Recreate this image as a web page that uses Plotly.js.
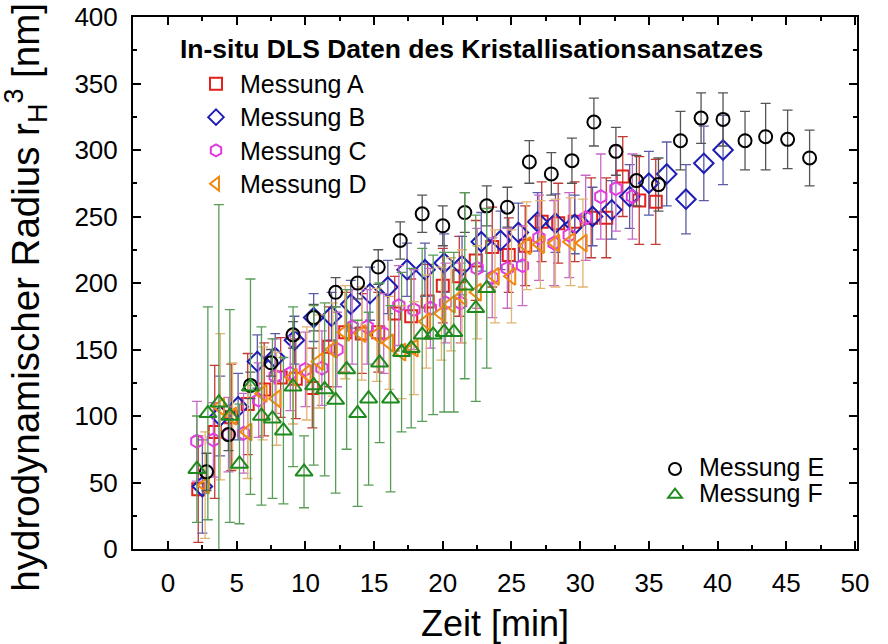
<!DOCTYPE html>
<html>
<head>
<meta charset="utf-8">
<script src="https://cdn.plot.ly/plotly-3.0.1.min.js"></script>
<style>
  html, body { margin: 0; padding: 0; background: #fff; }
  #chart { width: 888px; height: 644px; }
</style>
</head>
<body>
<div id="chart"></div>
<script>
// In-situ DLS: hydrodynamic radius over time, six runs (A–F)

// Messung A
const tA = [2.2, 3.4, 4.6, 5.8, 7.0, 8.2, 9.3, 10.5, 11.7, 12.9, 14.1, 15.3, 16.5, 17.7, 18.9, 20.0, 21.2, 22.4, 23.6, 24.8, 26.0, 27.2, 28.4, 29.6, 30.8, 31.9, 33.1, 34.3, 35.5];
const rA = [45, 88, 99, 109, 120, 129, 128, 121, 152, 163, 162, 163, 177, 175, 186, 198, 205, 217, 227, 221, 228, 246, 245, 246, 249, 249, 280, 262, 261];
const eA = [40, 50, 40, 38, 35, 30, 30, 30, 30, 30, 30, 30, 28, 28, 28, 28, 30, 30, 30, 28, 30, 30, 30, 30, 30, 30, 30, 33, 32];

// Messung B
const tB = [2.5, 3.8, 5.1, 6.5, 7.8, 9.2, 10.6, 11.9, 13.3, 14.7, 16.0, 17.4, 18.7, 20.1, 21.4, 22.8, 24.2, 25.5, 26.9, 28.2, 29.6, 30.9, 32.3, 33.6, 35.0, 36.3, 37.7, 39.0, 40.4];
const rB = [47, 100, 107, 141, 144, 157, 174, 175, 184, 192, 197, 210, 210, 215, 213, 231, 232, 238, 246, 245, 244, 250, 255, 265, 275, 282, 263, 290, 300];
const eB = [35, 30, 25, 20, 18, 18, 18, 18, 18, 20, 20, 20, 20, 22, 22, 22, 22, 22, 22, 22, 22, 22, 22, 24, 24, 24, 26, 28, 26];

// Messung C
const tC = [2.1, 3.3, 4.4, 5.5, 6.6, 7.8, 8.9, 10.0, 11.2, 12.3, 13.4, 14.5, 15.7, 16.8, 17.9, 19.1, 20.2, 21.3, 22.5, 23.6, 24.7, 25.8, 27.0, 28.1, 29.2, 30.4, 31.5, 32.6, 33.8];
const rC = [81, 82, 86, 87, 112, 130, 132, 135, 136, 150, 167, 167, 162, 183, 180, 181, 185, 185, 211, 204, 211, 213, 234, 230, 236, 249, 265, 271, 265];
const eC = [30, 28, 28, 30, 28, 28, 28, 28, 28, 28, 28, 28, 30, 30, 30, 30, 30, 30, 30, 30, 30, 30, 32, 32, 32, 32, 32, 32, 32];

// Messung D
const tD = [2.7, 3.8, 4.7, 5.8, 6.9, 7.9, 9.1, 10.1, 11.0, 12.0, 12.9, 14.1, 15.2, 16.1, 17.0, 17.9, 18.8, 19.9, 20.6, 21.4, 22.5, 23.8, 25.0, 26.1, 27.1, 28.2, 29.3, 30.2];
const rD = [48, 107, 100, 88, 117, 113, 129, 132, 141, 150, 163, 162, 161, 155, 148, 151, 171, 177, 184, 190, 193, 205, 205, 228, 229, 230, 231, 230];
const eD = [40, 55, 40, 35, 35, 35, 35, 35, 35, 35, 35, 35, 35, 35, 35, 35, 35, 35, 35, 35, 35, 35, 35, 33, 33, 33, 33, 33];

// Messung E
const tE = [2.8, 4.4, 6.0, 7.5, 9.1, 10.6, 12.2, 13.8, 15.3, 16.9, 18.5, 20.0, 21.6, 23.2, 24.7, 26.3, 27.9, 29.4, 31.0, 32.6, 34.1, 35.7, 37.3, 38.8, 40.4, 42.0, 43.5, 45.1, 46.7];
const rE = [58, 86, 123, 140, 161, 174, 193, 200, 212, 232, 252, 243, 253, 258, 257, 291, 282, 292, 321, 299, 277, 274, 307, 324, 323, 307, 310, 308, 294];
const eE = [14, 12, 10, 10, 10, 10, 11, 12, 13, 14, 14, 15, 15, 15, 15, 16, 16, 17, 18, 18, 19, 20, 22, 19, 20, 22, 25, 22, 21];

// Messung F
const tF = [2.1, 2.9, 3.7, 4.5, 5.2, 6.0, 6.8, 7.6, 8.4, 9.1, 9.9, 10.6, 11.4, 12.2, 13.0, 13.8, 14.6, 15.4, 16.2, 17.0, 17.7, 18.5, 19.3, 20.1, 20.8, 21.6, 22.4, 23.2];
const rF = [60, 102, 110, 100, 64, 122, 100, 98, 89, 122, 58, 123, 120, 112, 135, 102, 113, 140, 113, 148, 151, 161, 161, 163, 163, 198, 181, 196];
const eF = [40, 80, 149, 80, 45, 81, 67, 60, 55, 60, 27, 60, 65, 70, 60, 70, 65, 60, 70, 60, 60, 65, 60, 60, 60, 70, 70, 60];

const xTicks = [0, 5, 10, 15, 20, 25, 30, 35, 40, 45, 50];
const yTicks = [0, 50, 100, 150, 200, 250, 300, 350, 400];

const FONT = 'Liberation Sans, Arial, Helvetica, sans-serif';

function series(name, t, r, e, symbol, size, color, barColor, legend) {
  return {
    type: 'scatter',
    mode: 'markers',
    name: '<span style="font-size:25px">' + name + '</span>',
    x: t,
    y: r,
    legend: legend,
    legendgroup: name,
    marker: { symbol: symbol, size: size, color: color, line: { color: color, width: 2 } },
    error_y: { type: 'data', array: e, visible: true, color: barColor, thickness: 1.3, width: 5 },
    cliponaxis: true,
    hoverinfo: 'x+y'
  };
}

const traces = [
  series('Messung A', tA, rA, eA, 'square-open', 12, '#e3201b', '#c23a34', 'legend'),
  series('Messung B', tB, rB, eB, 'diamond-open', 15, '#1d1db3', '#5c5ca6', 'legend'),
  series('Messung C', tC, rC, eC, 'hexagon-open', 13, '#e03ce0', '#c56ac5', 'legend'),
  series('Messung D', tD, rD, eD, 'triangle-left-open', 15, '#f0890f', '#e2b472', 'legend'),
  series('Messung E', tE, rE, eE, 'circle-open', 13, '#000000', '#555555', 'legend2'),
  series('Messung F', tF, rF, eF, 'triangle-up-open', 15, '#1e8a1e', '#579d57', 'legend2')
];

const axisCommon = {
  showline: true,
  linecolor: '#000',
  linewidth: 2,
  mirror: 'allticks',
  ticks: 'inside',
  ticklen: 8,
  tickwidth: 2,
  tickcolor: '#000',
  showgrid: false,
  zeroline: false,
  tickfont: { family: FONT, size: 26, color: '#000' }
};

const layout = {
  width: 888,
  height: 644,
  margin: { l: 133, r: 31, t: 17, b: 95 },
  paper_bgcolor: '#fff',
  plot_bgcolor: '#fff',
  font: { family: FONT, color: '#000' },
  showlegend: true,
  xaxis: Object.assign({}, axisCommon, {
    range: [-2.55, 50.15],
    tickmode: 'array',
    tickvals: xTicks,
    ticktext: xTicks.map(String),
    minor: { dtick: 2.5, ticklen: 4, tickwidth: 2, tickcolor: '#000', ticks: 'inside' },
    ticklabelstandoff: 10,
    title: { text: 'Zeit [min]', font: { family: FONT, size: 36, color: '#000' }, standoff: 17 }
  }),
  yaxis: Object.assign({}, axisCommon, {
    range: [0, 400],
    tickmode: 'array',
    tickvals: yTicks,
    ticktext: yTicks.map(String),
    minor: { dtick: 25, ticklen: 4, tickwidth: 2, tickcolor: '#000', ticks: 'inside' },
    ticklabelstandoff: 8
  }),
  legend: {
    x: 0.0815, xanchor: 'left',
    y: 0.915, yanchor: 'top',
    bgcolor: 'rgba(0,0,0,0)',
    borderwidth: 0,
    itemwidth: 38,
    itemsizing: 'constant',
    tracegroupgap: 0,
    traceorder: 'normal',
    font: { family: FONT, size: 23.3, color: '#000' }
  },
  legend2: {
    x: 0.7155, xanchor: 'left',
    y: 0.184, yanchor: 'top',
    bgcolor: 'rgba(0,0,0,0)',
    borderwidth: 0,
    itemwidth: 38,
    itemsizing: 'constant',
    tracegroupgap: 0,
    traceorder: 'normal',
    font: { family: FONT, size: 17.5, color: '#000' }
  },
  annotations: [
    {
      // legend heading for runs A–D
      xref: 'paper', yref: 'paper',
      x: 0.0622, y: 0.94, xanchor: 'left', yanchor: 'middle',
      showarrow: false,
      text: '<b>In-situ DLS Daten des Kristallisationsansatzes</b>',
      font: { family: FONT, size: 26.5, color: '#000' }
    },
    {
      // y-axis title
      xref: 'paper', yref: 'paper',
      x: -0.148, y: 0.474, xanchor: 'center', yanchor: 'middle',
      textangle: -90,
      showarrow: false,
      text: 'hydrodynamischer Radius r<sub>H</sub><sup>3</sup> [nm]',
      font: { family: FONT, size: 38.5, color: '#000' }
    }
  ]
};

Plotly.newPlot('chart', traces, layout, { displayModeBar: false, staticPlot: true });
</script>
</body>
</html>
